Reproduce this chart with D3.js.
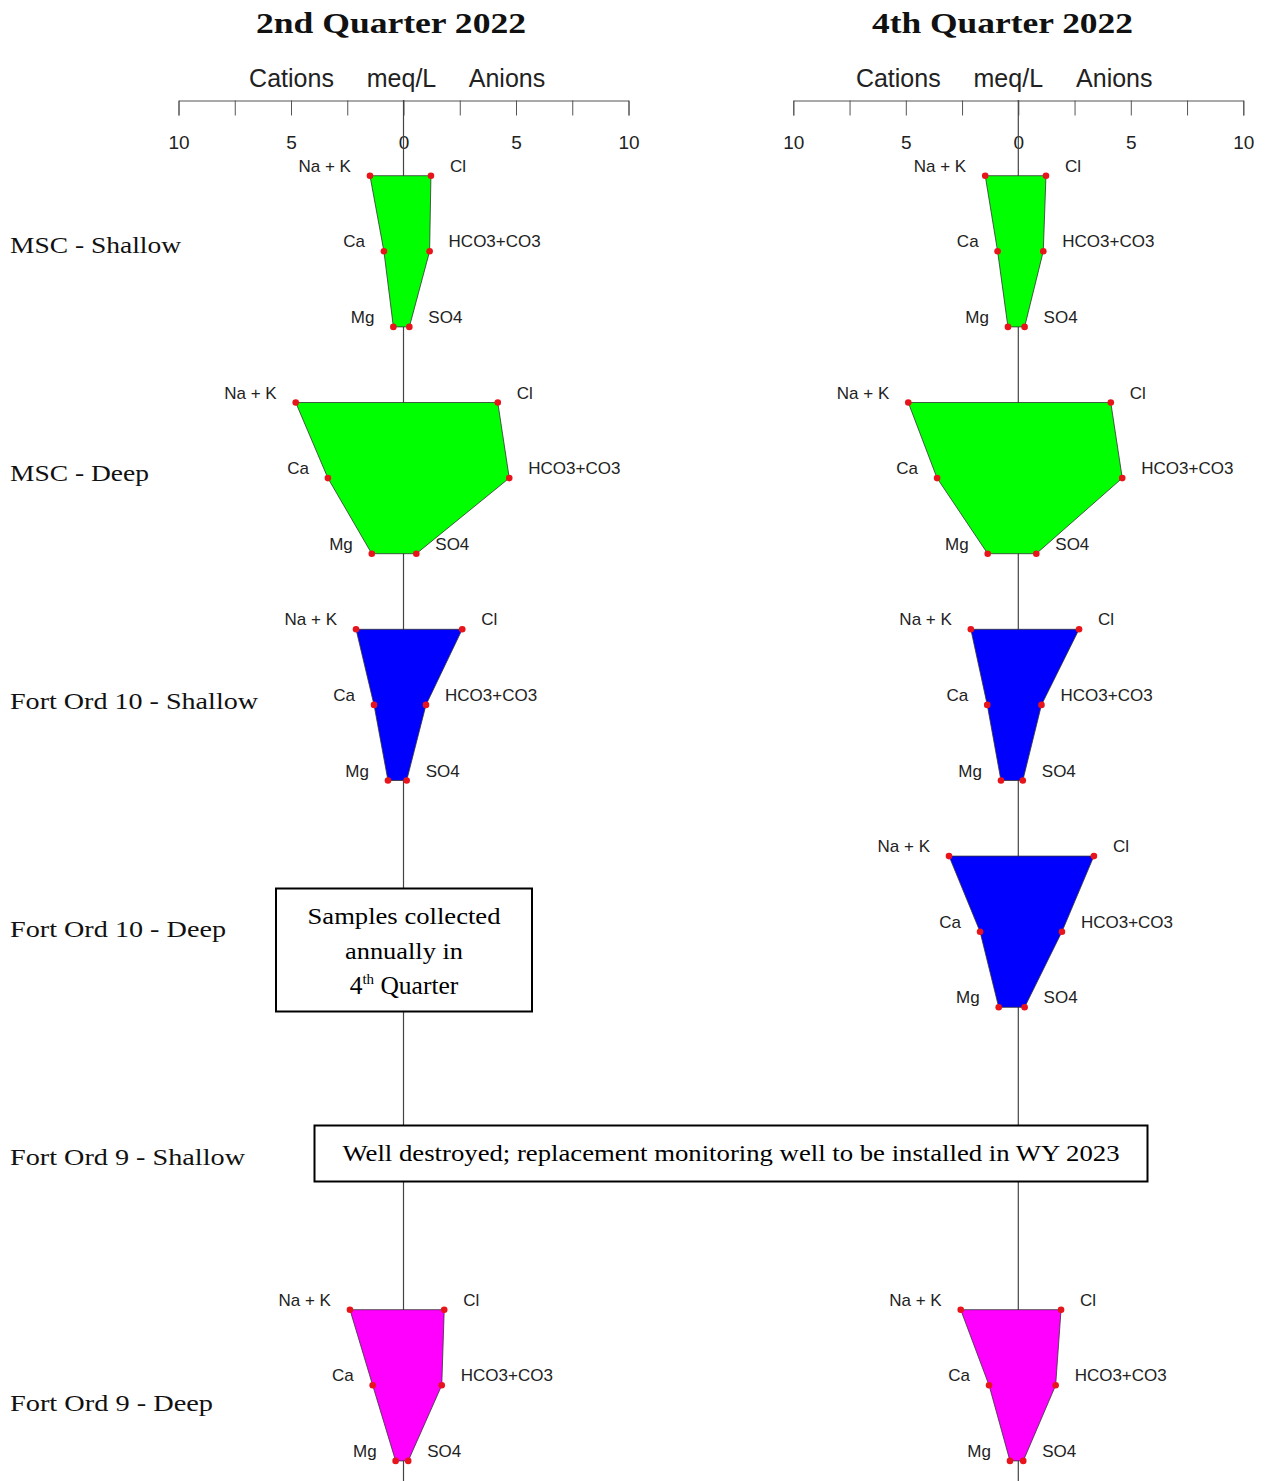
<!DOCTYPE html>
<html>
<head>
<meta charset="utf-8">
<script src="https://cdn.jsdelivr.net/npm/d3@7"></script>
<style>
  html, body { margin: 0; padding: 0; background: #fff; }
  svg { display: block; }
</style>
</head>
<body>
<script>
// ---------- DATA ----------
const wells = ["MSC - Shallow", "MSC - Deep", "Fort Ord 10 - Shallow", "Fort Ord 10 - Deep", "Fort Ord 9 - Shallow", "Fort Ord 9 - Deep"];
const wellColors = ["#00ff00", "#00ff00", "#0000ff", "#0000ff", "#ff00ff", "#ff00ff"];
const panelTitles = ["2nd Quarter 2022", "4th Quarter 2022"];
const cationLabels = ["Na + K", "Ca", "Mg"];
const anionLabels = ["Cl", "HCO3+CO3", "SO4"];
const tickValues = [-10, -7.5, -5, -2.5, 0, 2.5, 5, 7.5, 10];

// 2nd Quarter 2022 (meq/L); null = no sample
const q2NaK  = [1.49, 4.79, 2.11, null, null, 2.38];
const q2Ca   = [0.87, 3.36, 1.31, null, null, 1.37];
const q2Mg   = [0.45, 1.41, 0.69, null, null, 0.35];
const q2Cl   = [1.22, 4.19, 2.61, null, null, 1.81];
const q2HCO3 = [1.16, 4.70, 1.00, null, null, 1.70];
const q2SO4  = [0.26, 0.57, 0.14, null, null, 0.21];

// 4th Quarter 2022 (meq/L)
const q4NaK  = [1.47, 4.89, 2.11, 3.08, null, 2.56];
const q4Ca   = [0.92, 3.61, 1.38, 1.70, null, 1.30];
const q4Mg   = [0.46, 1.36, 0.77, 0.87, null, 0.37];
const q4Cl   = [1.23, 4.11, 2.70, 3.36, null, 1.90];
const q4HCO3 = [1.11, 4.62, 1.03, 1.94, null, 1.66];
const q4SO4  = [0.28, 0.80, 0.20, 0.28, null, 0.22];

const noteAnnual = ["Samples collected", "annually in", "Quarter"];
const noteDestroyed = "Well destroyed; replacement monitoring well to be installed in WY 2023";

// ---------- LAYOUT ----------
const W = 1267, H = 1481;
const svg = d3.select("body").append("svg").attr("width", W).attr("height", H);

const panels = [
  { title: panelTitles[0], center: 403.5, titleX: 391, titleLen: 270, hdr: [-112, -2, 103.5],
    cat: [q2NaK, q2Ca, q2Mg], an: [q2Cl, q2HCO3, q2SO4] },
  { title: panelTitles[1], center: 1018.3, titleX: 1002.5, titleLen: 261, hdr: [-120, -10, 96],
    cat: [q4NaK, q4Ca, q4Mg], an: [q4Cl, q4HCO3, q4SO4] }
];

// vertical scale: level index (row*3 + k) -> y
const y = d3.scaleLinear().domain([0, 17]).range([175.7, 1460.9]);
const labelY = [253, 481, 709, 937, 1165, 1411];
const labelLen = [171, 139, 248, 216, 235, 203];

const serif = "'Liberation Serif', 'Times New Roman', serif";
const sans = "'Liberation Sans', Arial, sans-serif";

// row labels
wells.forEach((w, i) => {
  svg.append("text").attr("x", 10).attr("y", labelY[i])
    .attr("font-family", serif).attr("font-size", 24)
    .attr("textLength", labelLen[i]).attr("lengthAdjust", "spacingAndGlyphs")
    .attr("fill", "#111").text(w);
});

panels.forEach(p => {
  const x = d3.scaleLinear().domain([-10, 10]).range([p.center - 225, p.center + 225]);
  const g = svg.append("g");

  // title
  g.append("text").attr("x", p.titleX).attr("y", 33).attr("text-anchor", "middle")
    .attr("font-family", serif).attr("font-weight", "bold").attr("font-size", 30)
    .attr("textLength", p.titleLen).attr("lengthAdjust", "spacingAndGlyphs")
    .attr("fill", "#111").text(p.title);

  // header words
  ["Cations", "meq/L", "Anions"].forEach((t, k) => {
    g.append("text").attr("x", p.center + p.hdr[k]).attr("y", 87).attr("text-anchor", "middle")
      .attr("font-family", sans).attr("font-size", 25).attr("fill", "#222").text(t);
  });

  // axis
  const axis = d3.axisBottom(x).tickValues(tickValues).tickSize(15).tickSizeOuter(15).tickPadding(20)
    .tickFormat(d => Number.isInteger(d) ? Math.abs(d) : "");
  const ag = g.append("g").attr("transform", "translate(0,100.5)").call(axis);
  ag.selectAll("path, line").attr("stroke", "#555").attr("stroke-width", 1);
  ag.selectAll("text").attr("font-family", sans).attr("font-size", 19).attr("fill", "#222");

  // central vertical line
  g.append("line").attr("x1", x(0)).attr("x2", x(0)).attr("y1", 100).attr("y2", H)
    .attr("stroke", "#444").attr("stroke-width", 1.2);

  // stiff diagrams
  wells.forEach((w, i) => {
    if (p.cat[0][i] == null) return;
    const pts = [
      [x(-p.cat[0][i]), y(i * 3)],
      [x(-p.cat[1][i]), y(i * 3 + 1)],
      [x(-p.cat[2][i]), y(i * 3 + 2)],
      [x(p.an[2][i]), y(i * 3 + 2)],
      [x(p.an[1][i]), y(i * 3 + 1)],
      [x(p.an[0][i]), y(i * 3)]
    ];
    g.append("path").attr("d", d3.line()(pts) + "Z")
      .attr("fill", wellColors[i]).attr("stroke", "#333").attr("stroke-width", 0.8);
    g.selectAll(null).data(pts).enter().append("circle")
      .attr("cx", d => d[0]).attr("cy", d => d[1]).attr("r", 3.3)
      .attr("fill", "#e8141b");
    for (let k = 0; k < 3; k++) {
      g.append("text").attr("x", x(-p.cat[k][i]) - 19).attr("y", y(i * 3 + k) - 4)
        .attr("text-anchor", "end").attr("font-family", sans).attr("font-size", 17)
        .attr("fill", "#222").text(cationLabels[k]);
      g.append("text").attr("x", x(p.an[k][i]) + 19).attr("y", y(i * 3 + k) - 4)
        .attr("text-anchor", "start").attr("font-family", sans).attr("font-size", 17)
        .attr("fill", "#222").text(anionLabels[k]);
    }
  });
});

// note box: annual sampling (left panel, Fort Ord 10 - Deep)
const nb = svg.append("g");
nb.append("rect").attr("x", 276).attr("y", 888.5).attr("width", 256).attr("height", 123)
  .attr("fill", "#fff").attr("stroke", "#000").attr("stroke-width", 2);
nb.append("text").attr("x", 404).attr("y", 924).attr("text-anchor", "middle")
  .attr("font-family", serif).attr("font-size", 24)
  .attr("textLength", 193).attr("lengthAdjust", "spacingAndGlyphs").text(noteAnnual[0]);
nb.append("text").attr("x", 404).attr("y", 959).attr("text-anchor", "middle")
  .attr("font-family", serif).attr("font-size", 24)
  .attr("textLength", 118).attr("lengthAdjust", "spacingAndGlyphs").text(noteAnnual[1]);
const t3 = nb.append("text").attr("x", 404).attr("y", 994).attr("text-anchor", "middle")
  .attr("font-family", serif).attr("font-size", 25.5);
t3.append("tspan").text("4");
t3.append("tspan").attr("font-size", 15).attr("dy", -10).text("th");
t3.append("tspan").attr("dy", 10).text(" " + noteAnnual[2]);

// note box: destroyed well (spanning both panels)
const db = svg.append("g");
db.append("rect").attr("x", 314.5).attr("y", 1125.5).attr("width", 833).attr("height", 56)
  .attr("fill", "#fff").attr("stroke", "#000").attr("stroke-width", 2);
db.append("text").attr("x", 731).attr("y", 1161).attr("text-anchor", "middle")
  .attr("font-family", serif).attr("font-size", 24)
  .attr("textLength", 777).attr("lengthAdjust", "spacingAndGlyphs").text(noteDestroyed);
</script>
</body>
</html>
